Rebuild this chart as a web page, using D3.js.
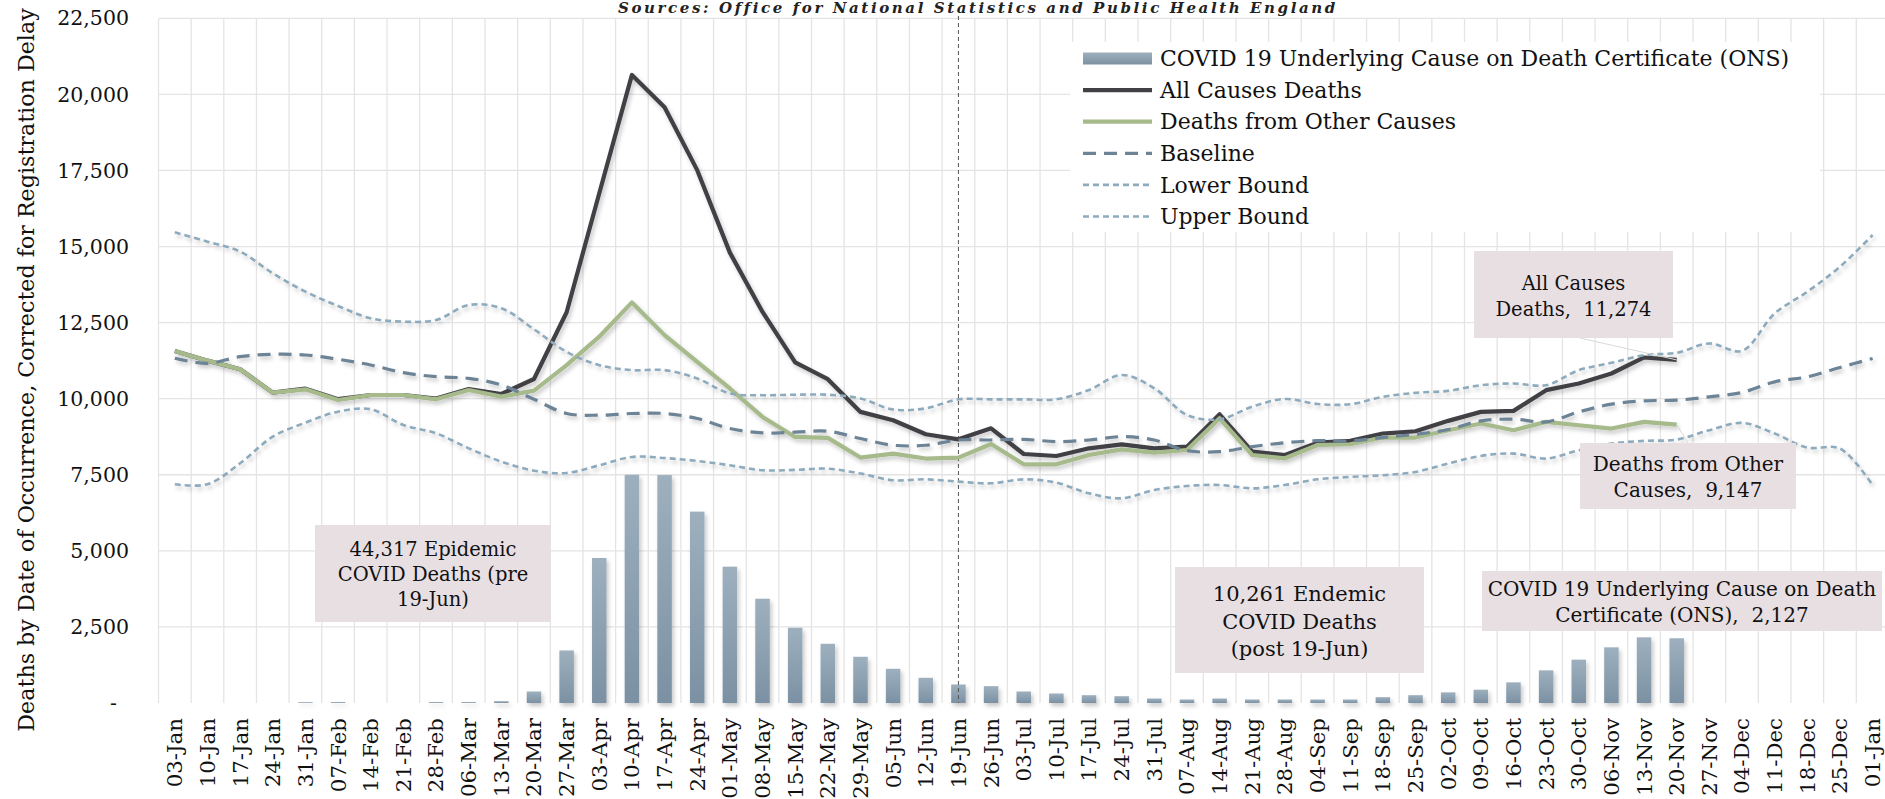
<!DOCTYPE html>
<html>
<head>
<meta charset="utf-8">
<script src="https://d3js.org/d3.v7.min.js"></script>
<style>
  body { margin: 0; background: #fff; overflow: hidden; }
  svg { display: block; font-family: "DejaVu Serif", serif; }
</style>
</head>
<body>
<svg id="chart" width="1885" height="799"></svg>
<script>
// week-ending dates, 2020
const weeks = ["03-Jan","10-Jan","17-Jan","24-Jan","31-Jan","07-Feb","14-Feb","21-Feb","28-Feb",
  "06-Mar","13-Mar","20-Mar","27-Mar","03-Apr","10-Apr","17-Apr","24-Apr","01-May","08-May",
  "15-May","22-May","29-May","05-Jun","12-Jun","19-Jun","26-Jun","03-Jul","10-Jul","17-Jul",
  "24-Jul","31-Jul","07-Aug","14-Aug","21-Aug","28-Aug","04-Sep","11-Sep","18-Sep","25-Sep",
  "02-Oct","09-Oct","16-Oct","23-Oct","30-Oct","06-Nov","13-Nov","20-Nov","27-Nov","04-Dec",
  "11-Dec","18-Dec","25-Dec","01-Jan"]

const covidDeaths = [0,0,0,0,26,30,0,0,30,30,60,378,1727,4765,7500,7490,6289,4480,3427,
  2473,1946,1519,1124,828,608,553,378,312,257,224,148,115,148,115,115,115,115,192,257,
  349,437,678,1072,1424,1829,2158,2127,null,null,null,null,null,null]

const allCauses = [11570,11250,10965,10200,10330,9985,10121,10121,10005,10315,10155,10647,
  12840,16750,20640,19580,17510,14800,12850,11190,10640,9566,9293,8832,8665,9026,8183,
  8117,8369,8500,8369,8424,9486,8260,8150,8555,8613,8854,8931,9271,9567,9600,10280,10499,
  10828,11354,11274,null,null,null,null,null,null]

const otherCauses = [11570,11250,10965,10198,10307,9957,10121,10121,9979,10286,10066,10264,
  11102,12037,13164,12089,11211,10336,9401,8743,8711,8066,8197,8033,8062,8511,7843,7843,
  8150,8336,8226,8314,9355,8150,8041,8478,8503,8723,8723,8964,9183,8964,9238,9128,9019,
  9238,9147,null,null,null,null,null,null]

const baseline = [11330,11162,11381,11458,11436,11294,11107,10855,10724,10669,10450,9979,
  9513,9457,9513,9513,9348,9020,8875,8900,8930,8690,8470,8470,8643,8643,8665,8588,8643,
  8752,8643,8292,8260,8424,8555,8620,8613,8723,8832,8986,9271,9326,9238,9567,9819,9929,
  9951,10060,10203,10554,10718,11025,11321]

const lowerBound = [7186,7190,7876,8752,9212,9574,9651,9136,8863,8369,7931,7635,7560,7812,
  8086,8050,7954,7812,7648,7660,7700,7539,7319,7350,7274,7219,7350,7241,6890,6726,7000,
  7131,7164,7054,7164,7350,7429,7484,7593,7867,8119,8196,8032,8306,8525,8613,8657,8964,
  9205,8854,8393,8361,7155]

const upperBound = [15467,15160,14832,14120,13517,13047,12641,12532,12586,13079,12970,12280,
  11540,11102,10938,10938,10664,10171,10115,10130,10130,10006,9645,9683,9979,9979,9979,
  9979,10286,10779,10341,9464,9322,9738,9990,9826,9819,10060,10192,10257,10444,10499,
  10444,10937,11178,11431,11508,11814,11573,12801,13514,14336,15378]

const yTicks = d3.range(0, 22501, 2500)
const splitWeek = "19-Jun"

const svg = d3.select("#chart")
const left = 158.5, band = 32.65
const x = d3.scaleBand().domain(weeks).range([left, left + weeks.length * band])
const y = d3.scaleLinear().domain([0, 22500]).range([703, 18.3])
const cx = w => x(w) + x.bandwidth() / 2

const defs = svg.append("defs")
const grad = defs.append("linearGradient").attr("id", "barGrad")
  .attr("x1", 0).attr("y1", 0).attr("x2", 0).attr("y2", 1)
grad.append("stop").attr("offset", "0%").attr("stop-color", "#9eb0be")
grad.append("stop").attr("offset", "100%").attr("stop-color", "#7b91a3")
const shadow = defs.append("filter").attr("id", "shadow")
  .attr("filterUnits", "userSpaceOnUse").attr("x", 0).attr("y", 0).attr("width", 1885).attr("height", 799)
shadow.append("feDropShadow").attr("dx", 2).attr("dy", 3).attr("stdDeviation", 2.2)
  .attr("flood-color", "#000").attr("flood-opacity", 0.22)

// gridlines
const grid = svg.append("g").attr("stroke", "#e4e4e4").attr("stroke-width", 1.3)
grid.selectAll(".h").data(yTicks.filter(d => d > 0)).join("line")
  .attr("x1", left).attr("x2", 1885).attr("y1", d => y(d)).attr("y2", d => y(d))
grid.selectAll(".v").data(weeks.concat(["end"])).join("line")
  .attr("x1", (d, i) => left + i * band).attr("x2", (d, i) => left + i * band)
  .attr("y1", y(22500)).attr("y2", y(0))

// y axis labels
svg.append("g").selectAll("text").data(yTicks).join("text")
  .attr("x", d => d === 0 ? 117 : 129).attr("y", d => y(d)).attr("dy", "0.35em")
  .attr("text-anchor", "end").attr("font-size", 20.5).attr("fill", "#111")
  .text(d => d === 0 ? "-" : d3.format(",")(d))

svg.append("text")
  .attr("transform", `translate(26,370) rotate(-90)`)
  .attr("text-anchor", "middle").attr("dominant-baseline", "central")
  .attr("font-size", 22.2).attr("fill", "#111")
  .text("Deaths by Date of Occurrence, Corrected for Registration Delay")

// x axis labels
svg.append("g").selectAll("text").data(weeks).join("text")
  .attr("transform", d => `translate(${cx(d)},718) rotate(-90)`)
  .attr("text-anchor", "end").attr("dy", "0.35em")
  .attr("font-size", 21.3).attr("fill", "#111")
  .text(d => d)

// sources line at the very top
svg.append("text")
  .attr("x", 978).attr("y", 13).attr("text-anchor", "middle")
  .attr("font-size", 15).attr("font-style", "italic").attr("font-weight", "bold")
  .attr("letter-spacing", 2.6).attr("fill", "#222")
  .text("Sources: Office for National Statistics and Public Health England")

// bars
svg.append("g").attr("filter", "url(#shadow)")
  .selectAll("rect").data(weeks.map((w, i) => [w, covidDeaths[i]]).filter(d => d[1])).join("rect")
  .attr("x", d => cx(d[0]) - 7.25).attr("width", 14.5)
  .attr("y", d => y(d[1])).attr("height", d => y(0) - y(d[1]))
  .attr("fill", "url(#barGrad)")

// split line at 19-Jun
svg.append("line")
  .attr("x1", cx(splitWeek)).attr("x2", cx(splitWeek)).attr("y1", 16).attr("y2", y(0))
  .attr("stroke", "#555").attr("stroke-width", 1).attr("stroke-dasharray", "4,3")

const series = [
  { values: allCauses, color: "#404045", width: 4.2, dash: null, curve: d3.curveLinear },
  { values: otherCauses, color: "#a6ba8c", width: 4.2, dash: null, curve: d3.curveLinear },
  { values: baseline, color: "#6c8496", width: 3.2, dash: "13,8", curve: d3.curveCatmullRom },
  { values: lowerBound, color: "#8eaabd", width: 2.6, dash: "6,4", curve: d3.curveCatmullRom },
  { values: upperBound, color: "#8eaabd", width: 2.6, dash: "6,4", curve: d3.curveCatmullRom }
]
const lineG = svg.append("g").attr("filter", "url(#shadow)")
series.forEach(s => {
  const line = d3.line()
    .defined(d => d[1] != null)
    .x(d => cx(d[0])).y(d => y(d[1]))
    .curve(s.curve)
  lineG.append("path")
    .datum(weeks.map((w, i) => [w, s.values[i]]))
    .attr("d", line)
    .attr("fill", "none").attr("stroke", s.color).attr("stroke-width", s.width)
    .attr("stroke-linejoin", "round")
    .attr("stroke-dasharray", s.dash)
})

// annotation boxes
const lastWeek = "20-Nov", lastIdx = weeks.indexOf(lastWeek)
svg.append("line").attr("x1", 1580).attr("y1", 338).attr("x2", cx(lastWeek)).attr("y2", y(allCauses[lastIdx]))
  .attr("stroke", "#d9d9d9").attr("stroke-width", 1)
svg.append("line").attr("x1", 1688).attr("y1", 443).attr("x2", cx(lastWeek)).attr("y2", y(otherCauses[lastIdx]))
  .attr("stroke", "#d9d9d9").attr("stroke-width", 1)

const notes = [
  { box: [315, 525, 236, 97], lines: ["44,317 Epidemic", "COVID Deaths (pre", "19-Jun)"], y0: 556, lh: 25, fs: 19.5 },
  { box: [1175, 567, 249, 106], lines: ["10,261 Endemic", "COVID Deaths", "(post 19-Jun)"], y0: 601, lh: 27.5, fs: 21 },
  { box: [1482, 571, 400, 60], lines: ["COVID 19 Underlying Cause on Death", "Certificate (ONS),  " + d3.format(",")(covidDeaths[lastIdx])], y0: 596, lh: 26, fs: 20 },
  { box: [1474, 251, 199, 87], lines: ["All Causes", "Deaths,  " + d3.format(",")(allCauses[lastIdx])], y0: 290, lh: 26, fs: 19.5 },
  { box: [1580, 443, 216, 66], lines: ["Deaths from Other", "Causes,  " + d3.format(",")(otherCauses[lastIdx])], y0: 471, lh: 25.5, fs: 20 }
]
notes.forEach(n => {
  const [bx, by, bw, bh] = n.box
  svg.append("rect").attr("x", bx).attr("y", by).attr("width", bw).attr("height", bh).attr("fill", "#e8dfe3")
  const t = svg.append("text").attr("text-anchor", "middle").attr("font-size", n.fs).attr("fill", "#111")
    .style("white-space", "pre")
  n.lines.forEach((l, i) => t.append("tspan").attr("x", bx + bw / 2).attr("y", n.y0 + i * n.lh).text(l))
})

// legend
const legendItems = [
  { label: "COVID 19 Underlying Cause on Death Certificate (ONS)", type: "bar" },
  { label: "All Causes Deaths", s: series[0] },
  { label: "Deaths from Other Causes", s: series[1] },
  { label: "Baseline", s: series[2] },
  { label: "Lower Bound", s: series[3] },
  { label: "Upper Bound", s: series[4] }
]
const legend = svg.append("g")
legend.append("rect").attr("x", 1070).attr("y", 42).attr("width", 750).attr("height", 190).attr("fill", "#fff")
legendItems.forEach((it, i) => {
  const ly = 58.5 + i * 31.6
  if (it.type === "bar") {
    legend.append("rect").attr("x", 1083).attr("y", ly - 6).attr("width", 69).attr("height", 12)
      .attr("fill", "url(#barGrad)")
  } else {
    legend.append("line").attr("x1", 1083).attr("x2", 1152).attr("y1", ly).attr("y2", ly)
      .attr("stroke", it.s.color).attr("stroke-width", it.s.width).attr("stroke-dasharray", it.s.dash)
  }
  legend.append("text").attr("x", 1160).attr("y", ly).attr("dy", "0.35em")
    .attr("font-size", 22).attr("fill", "#111").text(it.label)
})
</script>
</body>
</html>
